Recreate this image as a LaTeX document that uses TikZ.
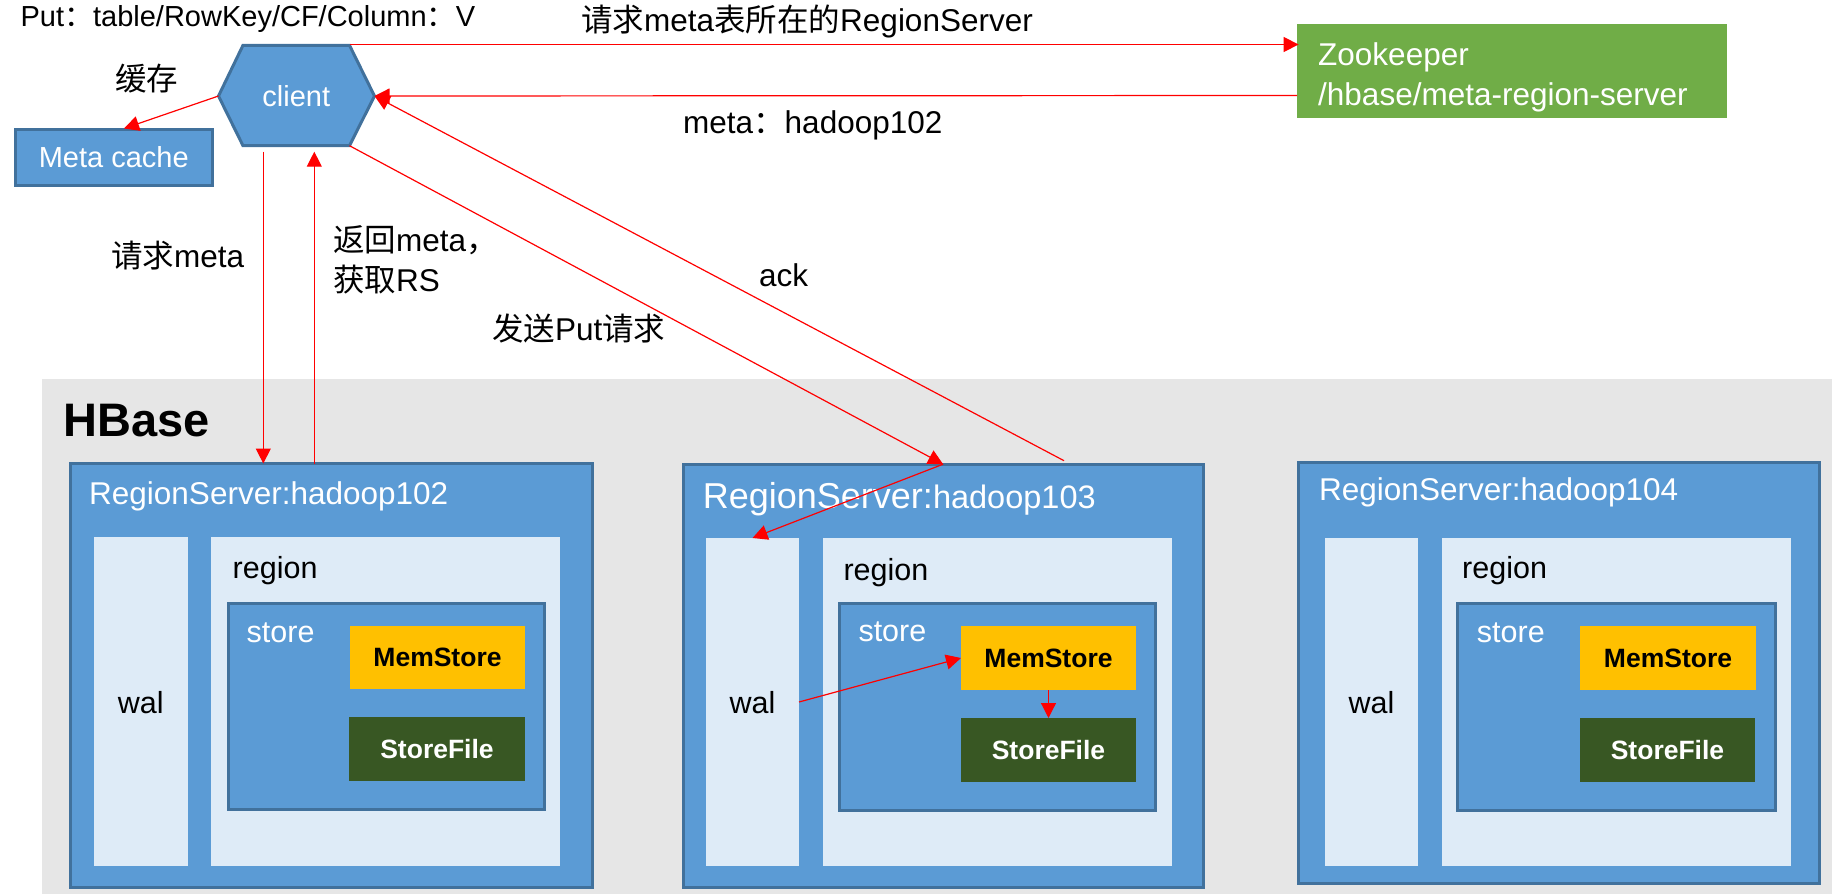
\documentclass[tikz,border=0pt]{standalone}
\usepackage{fontspec}
\setmainfont{Liberation Sans}
\newfontfamily\cjk{Noto Sans CJK SC}
\usetikzlibrary{arrows.meta}
\definecolor{rsblue}{HTML}{5B9BD5}
\definecolor{bdr}{HTML}{41719C}
\definecolor{lightb}{HTML}{DEEBF7}
\definecolor{hgray}{HTML}{E6E6E6}
\definecolor{memc}{HTML}{FFC000}
\definecolor{sfc}{HTML}{385723}
\definecolor{zkc}{HTML}{70AD47}
\definecolor{arrred}{HTML}{FF0000}
\newcommand{\fsz}[1]{\fontsize{#1}{#1}\selectfont}
\newcommand{\boxnode}[6]{\node[#1, minimum width={#5-#3}, minimum height={#6-#4}] (#2) at ({(#3+#5)/2},{(#4+#6)/2}) {};}
\tikzset{
  bordbox/.style={draw=bdr, line width=3pt, fill=rsblue, inner sep=0pt, outer sep=0pt},
  plainbox/.style={fill=#1, draw=none, inner sep=0pt, outer sep=0pt},
  arr/.style={draw=arrred, line width=1.2pt, -{Triangle[length=15pt,width=15pt]}},
  lbl/.style={anchor=base west, inner sep=0pt, font=\fsz{31.5}},
  inlbl/.style={anchor=base west, inner sep=0pt, font=\fsz{30.5}},
  boldlbl/.style={font=\bfseries\fsz{26.5}, inner sep=0pt},
}
\begin{document}
\begin{tikzpicture}[x=1pt,y=-1pt]
\useasboundingbox (0,0) rectangle (1832,894);
% HBase background
\boxnode{plainbox=hgray}{hbase}{42}{378.5}{1832}{894}
\node[anchor=base west, inner sep=0pt, font=\bfseries\fsz{47}] (thbase) at (63,436.7) {HBase};

% client hexagon
\coordinate (hTL) at (243,45.3);
\coordinate (hTR) at (349.5,45.3);
\coordinate (hR) at (374.5,96);
\coordinate (hBR) at (349.5,145.7);
\coordinate (hBL) at (243,145.7);
\coordinate (hL) at (218.5,96);
\draw[fill=rsblue, draw=bdr, line width=3pt, line join=miter] (hTL)--(hTR)--(hR)--(hBR)--(hBL)--(hL)--cycle;
\node[inner sep=0pt, text=white, font=\fsz{29}] (client) at (296.3,96) {client};

% Meta cache
\boxnode{bordbox}{mc}{15}{129.2}{212.5}{185.8}
\node[inner sep=0pt, text=white, font=\fsz{29}] (tmc) at (mc.center) {Meta cache};

% Zookeeper
\boxnode{plainbox=zkc}{zk}{1297}{24}{1727}{117.7}
\node[lbl, text=white] (tzk1) at (1318,65) {Zookeeper};
\node[lbl, text=white] (tzk2) at (1318,105) {/hbase/meta-region-server};

% RegionServers
\boxnode{bordbox}{rs102}{70.5}{463.5}{592.5}{887.5}
\boxnode{bordbox}{rs103}{683.2}{464.2}{1203}{887.2}
\boxnode{bordbox}{rs104}{1298.9}{462.2}{1819.9}{883.8}

\node[lbl, text=white] (trs102) at (89,504) {RegionServer:hadoop102};
\node[anchor=base west, inner sep=0pt, text=white] (trs103) at (702.7,508.3) {\fsz{36}RegionServer:\fsz{32.5}hadoop103};
\node[lbl, text=white] (trs104) at (1319,500) {RegionServer:hadoop104};

% RS102 contents
\boxnode{plainbox=lightb}{wal102}{93.5}{537}{188}{866}
\boxnode{plainbox=lightb}{reg102}{211}{537}{560}{866}
\boxnode{bordbox}{st102}{228}{603.5}{544}{809.5}
\boxnode{plainbox=memc}{mem102}{350}{626}{525}{689}
\boxnode{plainbox=sfc}{sf102}{349}{717}{525}{781}
% RS103 contents
\boxnode{plainbox=lightb}{wal103}{706}{538}{799}{866}
\boxnode{plainbox=lightb}{reg103}{823}{538}{1172}{866}
\boxnode{bordbox}{st103}{839}{603.5}{1155.5}{810.5}
\boxnode{plainbox=memc}{mem103}{961}{626}{1136}{690}
\boxnode{plainbox=sfc}{sf103}{961}{718}{1136}{782}
% RS104 contents
\boxnode{plainbox=lightb}{wal104}{1325}{538}{1418}{866}
\boxnode{plainbox=lightb}{reg104}{1442}{538}{1791}{866}
\boxnode{bordbox}{st104}{1457.5}{603.5}{1775}{810.5}
\boxnode{plainbox=memc}{mem104}{1580}{626}{1756}{690}
\boxnode{plainbox=sfc}{sf104}{1580}{718}{1755}{782}

% inner texts
\node[inlbl] (treg102) at (232.5,578.7) {region};
\node[inlbl] (treg103) at (843.3,580) {region};
\node[inlbl] (treg104) at (1462,578.7) {region};
\node[inlbl, text=white] (tst102) at (246.5,642) {store};
\node[inlbl, text=white] (tst103) at (858.3,641.7) {store};
\node[inlbl, text=white] (tst104) at (1476.7,642) {store};
\node[inlbl, anchor=base] (twal102) at (140.75,713) {wal};
\node[inlbl, anchor=base] (twal103) at (752.5,713) {wal};
\node[inlbl, anchor=base] (twal104) at (1371.5,713) {wal};
\node[boldlbl] (tmem102) at (mem102.center) {MemStore};
\node[boldlbl] (tmem103) at (mem103.center) {MemStore};
\node[boldlbl] (tmem104) at (mem104.center) {MemStore};
\node[boldlbl, text=white] (tsf102) at (sf102.center) {StoreFile};
\node[boldlbl, text=white] (tsf103) at (sf103.center) {StoreFile};
\node[boldlbl, text=white] (tsf104) at (sf104.center) {StoreFile};

% top labels
\node[anchor=base west, inner sep=0pt, font=\fsz{29}] (tput) at (20.4,26.7) {Put{\cjk ：}table/RowKey/CF/Column{\cjk ：}V};
\node[lbl] (tq1) at (581,31.5) {{\cjk 请求}meta{\cjk 表所在的}RegionServer};
\node[lbl] (tcache) at (115,90) {\cjk 缓存};
\node[lbl] (tmeta) at (683,133) {meta{\cjk ：}hadoop102};
\node[lbl] (tqm) at (111,267.7) {{\cjk 请求}meta};
\node[lbl] (tret1) at (333,251.7) {{\cjk 返回}meta{\cjk ，}};
\node[lbl] (tret2) at (333,291) {{\cjk 获取}RS};
\node[lbl] (tack) at (759,286) {ack};
\node[lbl] (tsend) at (492,340.7) {{\cjk 发送}Put{\cjk 请求}};

% connector end points
\coordinate (zkL1) at (1298.6,44.5);
\coordinate (zkL2) at (1297,95.5);
\coordinate (q1) at (263.3,151.7);
\coordinate (q2) at (314.3,151.7);
\coordinate (mcT) at (124,128.5);
\coordinate (ackS) at (1064,460.7);

% connectors
\draw[arr] (hTR |- zkL1) -- (zkL1);
\draw[arr] (zkL2) -- (hR);
\draw[arr] (hL) -- (mcT);
\draw[arr] (q1) -- (q1 |- rs102.north);
\draw[arr] (q2 |- rs102.north) -- (q2);
\draw[arr] (hBR) -- (rs103.north);
\draw[arr] (ackS) -- (hR);
\draw[arr] (rs103.north) -- (wal103.north);
\draw[arr] (wal103.east) -- (mem103.west);
\draw[arr] (mem103.south) -- (sf103.north);
\end{tikzpicture}
\end{document}
